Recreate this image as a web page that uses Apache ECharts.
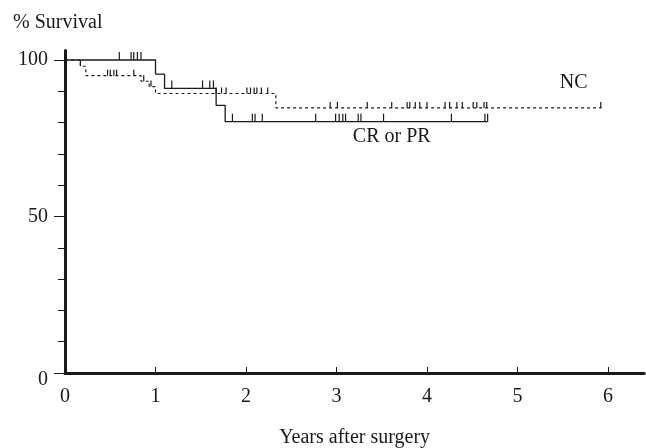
<!DOCTYPE html>
<html>
<head>
<meta charset="utf-8">
<script src="https://cdn.jsdelivr.net/npm/echarts@6/dist/echarts.min.js"></script>
<style>
html,body{margin:0;padding:0;background:#fff;}
#c{width:646px;height:448px;}
</style>
</head>
<body>
<div id="c"></div>
<script>
// Kaplan-Meier steps (time in years, % survival)
var crTimes = [0, 1.00, 1.10, 1.67, 1.77, 4.67];
var crSurv  = [100, 95.5, 90.9, 85.5, 80.3, 80.3];
var ncTimes = [0, 0.17, 0.23, 0.84, 0.93, 1.00, 2.33, 5.93];
var ncSurv  = [100, 98.0, 95.0, 93.2, 91.5, 89.3, 84.7, 84.7];
// censoring marks
var crCensT = [0.60, 0.73, 0.76, 0.80, 0.84, 1.18, 1.52, 1.60, 1.64, 1.85, 2.07, 2.10, 2.18, 2.77, 2.99, 3.03, 3.07, 3.10, 3.24, 3.27, 3.52, 4.27, 4.64, 4.67];
var crCensS = [100, 100, 100, 100, 100, 90.9, 90.9, 90.9, 90.9, 80.3, 80.3, 80.3, 80.3, 80.3, 80.3, 80.3, 80.3, 80.3, 80.3, 80.3, 80.3, 80.3, 80.3, 80.3];
var ncCensT = [0.17, 0.47, 0.50, 0.54, 0.57, 0.76, 0.87, 0.95, 1.67, 1.73, 1.78, 2.01, 2.05, 2.09, 2.12, 2.17, 2.24, 2.93, 3.01, 3.34, 3.61, 3.78, 3.81, 3.87, 3.92, 4.00, 4.20, 4.25, 4.33, 4.39, 4.51, 4.55, 4.63, 4.66, 5.92];
var ncCensS = [98.0, 95.0, 95.0, 95.0, 95.0, 95.0, 93.2, 91.5, 89.3, 89.3, 89.3, 89.3, 89.3, 89.3, 89.3, 89.3, 89.3, 84.7, 84.7, 84.7, 84.7, 84.7, 84.7, 84.7, 84.7, 84.7, 84.7, 84.7, 84.7, 84.7, 84.7, 84.7, 84.7, 84.7, 84.7];
var xTicks = [1, 2, 3, 4, 5, 6];
var xLabels = [0, 1, 2, 3, 4, 5, 6];
var yMinorTicks = [10, 20, 30, 40, 60, 70, 80, 90];
var yMajorTicks = [0, 50, 100];
var seriesLabels = [
  {name: 'NC', t: 5.62, s: 92.8},
  {name: 'CR or PR', t: 3.61, s: 75.5}
];

function zip(a, b) { return a.map(function (v, i) { return [v, b[i]]; }); }

var ink = '#1a1a1a';
var font = 'Liberation Serif';
var fs = 20;
var chart = echarts.init(document.getElementById('c'), null, {renderer: 'canvas'});
chart.setOption({
  animation: false,
  backgroundColor: '#fff',
  title: {
    text: '% Survival', left: 8, top: 8,
    textStyle: {fontFamily: font, fontSize: fs, fontWeight: 'normal', color: ink}
  },
  grid: {left: 65, right: 1.8, top: 50.6, bottom: 75, containLabel: false, outerBoundsMode: 'none'},
  xAxis: {
    type: 'value', min: 0, max: 6.4,
    name: 'Years after surgery', nameLocation: 'middle', nameGap: 55,
    nameTextStyle: {fontFamily: font, fontSize: fs, color: ink},
    axisLine: {show: true, lineStyle: {color: ink, width: 3}},
    axisTick: {show: true, inside: true, length: 6, lineStyle: {color: ink, width: 1}, customValues: xTicks},
    axisLabel: {show: true, margin: 14, fontFamily: font, fontSize: fs, color: ink, customValues: xLabels},
    splitLine: {show: false}
  },
  yAxis: [{
    type: 'value', min: 0, max: 103,
    axisLine: {show: true, lineStyle: {color: ink, width: 3}},
    axisTick: {show: true, inside: false, length: 7, lineStyle: {color: ink, width: 1}, customValues: yMinorTicks},
    axisLabel: {show: false},
    splitLine: {show: false}
  }, {
    type: 'value', min: 0, max: 103, position: 'left',
    axisLine: {show: false},
    axisTick: {show: true, inside: false, length: 11, lineStyle: {color: ink, width: 1}, customValues: yMajorTicks},
    axisLabel: {
      show: true, margin: 17, fontFamily: font, fontSize: fs, color: ink, customValues: yMajorTicks,
      formatter: function (v) { return v === 0 ? '{z|0}' : String(v); },
      rich: {z: {fontFamily: font, fontSize: fs, color: ink, padding: [14, 0, 0, 0]}}
    },
    splitLine: {show: false}
  }],
  series: [{
    type: 'line', name: 'CR or PR', step: 'end', showSymbol: false, symbol: 'none',
    data: zip(crTimes, crSurv),
    lineStyle: {color: ink, width: 1.3}, z: 3
  }, {
    type: 'line', name: 'NC', step: 'end', showSymbol: false, symbol: 'none',
    data: zip(ncTimes, ncSurv),
    lineStyle: {color: ink, width: 1.2, type: [3, 3]}, z: 2
  }, {
    type: 'scatter', symbol: 'rect', symbolSize: [1.2, 8], symbolOffset: [0, -4],
    data: zip(crCensT, crCensS), itemStyle: {color: ink, opacity: 1}, z: 4
  }, {
    type: 'scatter', symbol: 'rect', symbolSize: [1.2, 6], symbolOffset: [0, -3],
    data: zip(ncCensT, ncCensS), itemStyle: {color: ink, opacity: 1}, z: 4
  }, {
    type: 'scatter', symbolSize: 0, silent: true,
    itemStyle: {opacity: 1},
    data: seriesLabels.map(function (d) { return {value: [d.t, d.s], name: d.name}; }),
    label: {show: true, position: 'inside', formatter: '{b}', fontFamily: font, fontSize: fs, color: ink, opacity: 1}
  }]
});
</script>
</body>
</html>
